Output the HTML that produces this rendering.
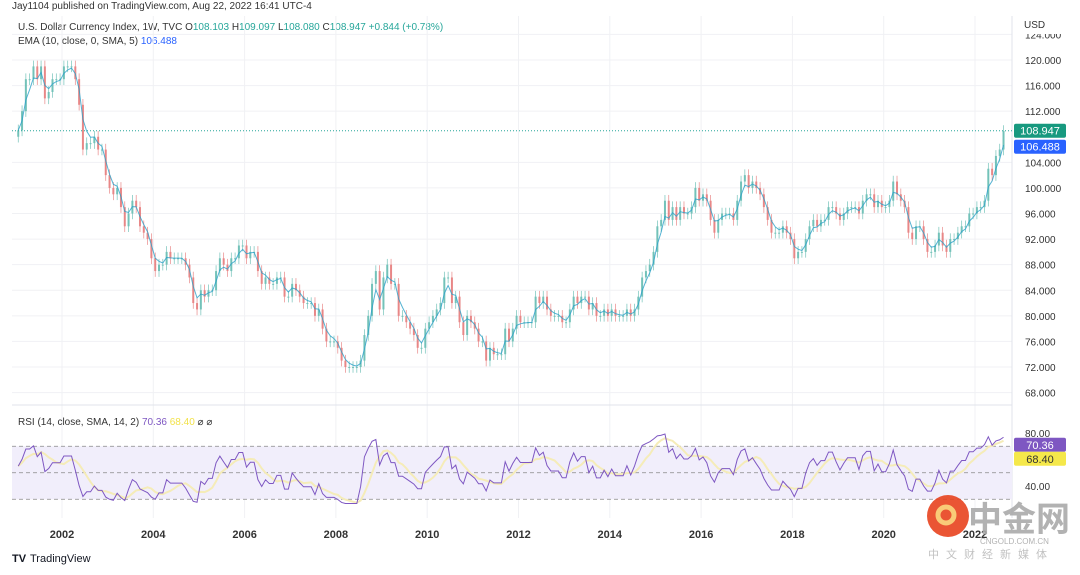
<!DOCTYPE html>
<html><head><meta charset="utf-8"><style>
body{margin:0;background:#fff;font-family:"Liberation Sans","Noto Sans CJK SC",sans-serif}
svg text{font-family:"Liberation Sans","Noto Sans CJK SC",sans-serif}
</style></head><body>
<svg id="c" width="1080" height="570" viewBox="0 0 1080 570" xmlns="http://www.w3.org/2000/svg">
<text x="12" y="9" font-size="10" fill="#333">Jay1104 published on TradingView.com, Aug 22, 2022 16:41 UTC-4</text>
<g font-size="10">
<text x="18" y="30" fill="#333">U.S. Dollar Currency Index, 1W, TVC <tspan fill="#333">O</tspan><tspan fill="#26a69a">108.103</tspan> <tspan fill="#333">H</tspan><tspan fill="#26a69a">109.097</tspan> <tspan fill="#333">L</tspan><tspan fill="#26a69a">108.080</tspan> <tspan fill="#333">C</tspan><tspan fill="#26a69a">108.947</tspan> <tspan fill="#26a69a">+0.844 (+0.78%)</tspan></text>
<text x="18" y="44" fill="#333">EMA (10, close, 0, SMA, 5) <tspan fill="#2962ff">106.488</tspan></text>
</g>
<g id="grid"></g>
<g id="price"></g>
<g id="rsi"></g>
<g id="axes"></g>
<rect x="1018" y="18" width="50" height="16" fill="#fff"/>
<text x="1024" y="28" font-size="10" fill="#333">USD</text>
<g><text x="12" y="562" font-size="11" font-weight="bold" fill="#131722">TV</text><text x="30" y="562" font-size="11" fill="#131722">TradingView</text></g>
<g opacity="0.9">
<circle cx="948" cy="516" r="21" fill="#e8431f"/><circle cx="946" cy="515" r="8" fill="none" stroke="#f9c66a" stroke-width="5"/>
<text x="968" y="531" font-size="34" fill="#aaa" font-weight="bold">中金网</text>
<text x="980" y="544" font-size="8" fill="#aaa">CNGOLD.COM.CN</text>
<text x="928" y="558" font-size="11" fill="#bbb" letter-spacing="7">中文财经新媒体</text>
</g>
</svg>
<script>
const years=[2002,2004,2006,2008,2010,2012,2014,2016,2018,2020,2022];
const priceTicks=[68,72,76,80,84,88,92,96,100,104,112,116,120,124];
const rsiTicks=[40,80];
const startYear=2001;
const closes=[
109,112,117,117,119,117,119,114,115,117,117,117,
119,119,119,117,113,106,107,107,108,106,106,102,
100,99,100,97,94,96,98,97,94,93,92,89,
87,88,88,90,89,89,89,89,88,86,82,81,
84,83,84,84,87,89,88,87,89,89,91,91,
89,90,90,87,85,86,85,85,86,86,83,83,
85,84,83,82,82,82,80,81,78,76,76,76,
75,73,72,72,72,72,73,77,80,85,87,81,
86,88,85,85,80,80,79,78,77,75,75,78,
79,80,81,82,86,86,82,83,79,77,80,79,
78,76,76,73,75,74,74,74,78,76,78,80,
79,79,79,79,83,82,83,81,80,80,80,79,
79,81,83,82,83,83,81,82,80,80,81,80,
81,80,80,80,81,80,81,83,86,87,88,90,
94,95,98,95,97,95,97,96,96,97,100,98,
99,98,95,93,95,96,96,96,95,98,101,102,
100,101,100,99,97,95,93,93,93,94,93,92,
89,90,90,92,94,95,94,95,95,97,97,96,
95,96,97,97,97,96,98,99,99,97,98,97,
97,98,101,99,98,97,93,92,94,94,92,90,
90,91,93,91,90,92,92,93,94,94,96,96,
97,97,98,103,102,105,106,108.9];
const lastClose=108.947, lastEma=106.488, rsiLast=70.36, rsiMaLast=68.40;
const NS="http://www.w3.org/2000/svg";
const X=t=>62+(t-2002)*45.65;
const Y=v=>60+(120-v)*6.396;
const RY=v=>486-(v-40)*53/40;
function mk(tag,at,parent){const e=document.createElementNS(NS,tag);for(const k in at)e.setAttribute(k,at[k]);parent.appendChild(e);return e;}
const grid=document.getElementById('grid'),pg=document.getElementById('price'),rg=document.getElementById('rsi'),ax=document.getElementById('axes');
for(const y of years){const l=mk('line',{x1:X(y),x2:X(y),y1:16,y2:518,stroke:'#f0f1f4'},grid);

}
for(const p of priceTicks){const l=mk('line',{x1:12,x2:1012,y1:Y(p),y2:Y(p),stroke:'#f0f1f4'},grid);


const t=mk('text',{x:1025,y:Y(p)+4,'font-size':10,fill:'#333'},ax);t.textContent=p.toFixed(3);

}
mk('line',{x1:12,x2:1012,y1:405,y2:405,stroke:'#e0e3eb'},grid);
mk('line',{x1:1012,x2:1012,y1:16,y2:518,stroke:'#e0e3eb'},grid);
for(const y of years){const t=mk('text',{x:X(y),y:538,'font-size':11,'font-weight':'bold','text-anchor':'middle',fill:'#333'},ax);t.textContent=y;

}
for(const v of rsiTicks){const t=mk('text',{x:1025,y:RY(v)+4,'font-size':10,fill:'#333'},ax);t.textContent=v.toFixed(2);

}
const tOf=i=>startYear+(i+0.5)/12;
let prev=closes[0]-1;
closes.forEach((c,i)=>{const o=prev;prev=c;const up=c>=o;const col=up?'#5bb8ad':'#e57373';
const hi=Math.max(o,c)+0.9,lo=Math.min(o,c)-0.9,x=X(tOf(i));
const g=mk('g',{opacity:0.85},pg);


mk('line',{x1:x,x2:x,y1:Y(hi),y2:Y(lo),stroke:col,'stroke-width':0.7},g);
mk('rect',{x:x-1,y:Y(Math.max(o,c)),width:2,height:Math.max(1,Math.abs(Y(o)-Y(c))),fill:col},g);});
let e=closes[0],pts=[];closes.forEach((c,i)=>{e=i?e+(c-e)*2/4:c;pts.push(X(tOf(i))+','+Y(e));});
const em=mk('polyline',{points:pts.join(' '),fill:'none',stroke:'#2aa0c8','stroke-width':1,opacity:0.8},pg);


const dl=mk('line',{x1:12,x2:1012,y1:Y(lastClose),y2:Y(lastClose),stroke:'#26a69a','stroke-dasharray':'1 2'},pg);


function badge(v,y,col,name,txtcol){const g=mk('g',{},ax);
mk('rect',{x:1014,y:y-7,width:52,height:14,fill:col,rx:2},g);const t=mk('text',{x:1040,y:y+4,'font-size':11,'text-anchor':'middle',fill:txtcol||'#fff'},g);t.textContent=v;}
badge(lastClose.toFixed(3),Y(lastClose),'#17997f','last-price-badge');
badge(lastEma.toFixed(3),Y(lastClose)+16,'#2962ff','ema-badge');
mk('rect',{x:12,y:RY(70),width:1000,height:RY(30)-RY(70),fill:'#f1eefb'},rg);
for(const v of [70,50,30]){mk('line',{x1:12,x2:1012,y1:RY(v),y2:RY(v),stroke:'#888','stroke-dasharray':'4 3','stroke-width':0.8},rg);}
const rl=mk('text',{x:18,y:425,'font-size':10,fill:'#333'},rg);rl.innerHTML='RSI (14, close, SMA, 14, 2) <tspan fill="#7e57c2">70.36</tspan> <tspan fill="#f2e24a">68.40</tspan> ⌀ ⌀';


const P=6;let ag=0.8,al=0.8,rsi=[];
closes.forEach((c,i)=>{if(i===0){rsi.push(55);return;}const d=c-closes[i-1];ag=(ag*(P-1)+Math.max(d,0))/P;al=(al*(P-1)+Math.max(-d,0))/P;let r=al===0?100:100-100/(1+ag/al);r=52+(r-50)*0.6;rsi.push(Math.max(24,Math.min(86,r)));});
let ma=[];rsi.forEach((r,i)=>{const s=rsi.slice(Math.max(0,i-5),i+1);ma.push(s.reduce((a,b)=>a+b,0)/s.length);});
const mp=mk('polyline',{points:ma.map((r,i)=>X(tOf(i))+','+RY(r)).join(' '),fill:'none',stroke:'#f5ecb8','stroke-width':2},rg);


const rp=mk('polyline',{points:rsi.map((r,i)=>X(tOf(i))+','+RY(r)).join(' '),fill:'none',stroke:'#7e57c2','stroke-width':1},rg);


badge(rsiLast.toFixed(2),RY(rsiLast)-1,'#7e57c2','rsi-badge');
badge(rsiMaLast.toFixed(2),RY(rsiLast)+13,'#f5e84a','rsi-ma-badge','#333');
</script>
</body></html>
